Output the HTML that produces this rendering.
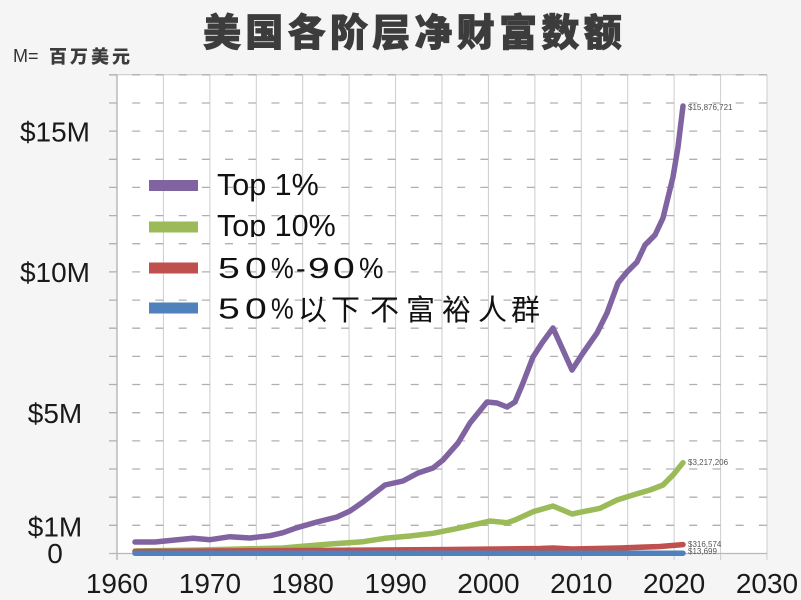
<!DOCTYPE html>
<html>
<head>
<meta charset="utf-8">
<style>
  html,body{margin:0;padding:0;background:#f5f5f5;}
  svg{display:block;}
</style>
</head>
<body>
<svg width="801" height="600" viewBox="0 0 801 600" xmlns="http://www.w3.org/2000/svg">
  <rect x="0" y="0" width="801" height="600" fill="#f5f5f5"/>
  <!-- plot area -->
  <rect x="117" y="74.8" width="650" height="478.7" fill="#ffffff"/>

  <!-- vertical grid lines -->
  <g stroke="#cdcdcd" stroke-width="1">
    <line x1="163.4" y1="74.8" x2="163.4" y2="560"/>
    <line x1="209.9" y1="74.8" x2="209.9" y2="560"/>
    <line x1="256.3" y1="74.8" x2="256.3" y2="560"/>
    <line x1="302.7" y1="74.8" x2="302.7" y2="560"/>
    <line x1="349.1" y1="74.8" x2="349.1" y2="560"/>
    <line x1="395.6" y1="74.8" x2="395.6" y2="560"/>
    <line x1="442.0" y1="74.8" x2="442.0" y2="560"/>
    <line x1="488.4" y1="74.8" x2="488.4" y2="560"/>
    <line x1="534.9" y1="74.8" x2="534.9" y2="560"/>
    <line x1="581.3" y1="74.8" x2="581.3" y2="560"/>
    <line x1="627.7" y1="74.8" x2="627.7" y2="560"/>
    <line x1="674.1" y1="74.8" x2="674.1" y2="560"/>
    <line x1="720.6" y1="74.8" x2="720.6" y2="560"/>
    <line x1="767" y1="74.8" x2="767" y2="560"/>
  </g>
  <!-- top border -->
  <line x1="117" y1="74.8" x2="767" y2="74.8" stroke="#c8c8c8" stroke-width="1"/>

  <!-- horizontal dashed grid lines -->
  <g stroke="#b0b0b0" stroke-width="1.3" stroke-dasharray="8 15.21">
    <line x1="109" y1="74.8" x2="771" y2="74.8"/>
    <line x1="109" y1="103.0" x2="771" y2="103.0"/>
    <line x1="109" y1="131.1" x2="771" y2="131.1"/>
    <line x1="109" y1="159.3" x2="771" y2="159.3"/>
    <line x1="109" y1="187.4" x2="771" y2="187.4"/>
    <line x1="109" y1="215.6" x2="771" y2="215.6"/>
    <line x1="109" y1="243.7" x2="771" y2="243.7"/>
    <line x1="109" y1="271.9" x2="771" y2="271.9"/>
    <line x1="109" y1="300.1" x2="771" y2="300.1"/>
    <line x1="109" y1="328.2" x2="771" y2="328.2"/>
    <line x1="109" y1="356.4" x2="771" y2="356.4"/>
    <line x1="109" y1="384.5" x2="771" y2="384.5"/>
    <line x1="109" y1="412.7" x2="771" y2="412.7"/>
    <line x1="109" y1="440.9" x2="771" y2="440.9"/>
    <line x1="109" y1="469.0" x2="771" y2="469.0"/>
    <line x1="109" y1="497.2" x2="771" y2="497.2"/>
    <line x1="109" y1="525.3" x2="771" y2="525.3"/>
  </g>
  <!-- axes -->
  <line x1="117" y1="74.8" x2="117" y2="560" stroke="#b0b0b0" stroke-width="1.3"/>
  <line x1="109" y1="553.5" x2="767" y2="553.5" stroke="#b8b8b8" stroke-width="1.2"/>

  <!-- series -->
  <g fill="none" stroke-width="5.5" stroke-linejoin="round" stroke-linecap="round">
    <polyline stroke="#8064a2" points="135,542 155,542 175,540 193,538.3 210,539.7 230,536.7 250,538 270,535.7 283,532.7 297,527.7 317,522 337,517 350,511 363,502 385,485 403,481 418,473 433,468 443,460 458,443 470,423 487,402 497,403 507,407 515,402 523,383 533,357 542,343 553,328 572,370 583,353 597,333 607,313 618,283 627,272 637,262 645,245 655,235 663,218 673,177 678,147 683,106"/>
    <polyline stroke="#9bbb59" points="135,551 200,550 283,548 300,546.5 330,544 363,541.7 385,538.3 410,536 433,533.3 458,528.3 480,523.3 490,521 507,522.7 515,520 533,511.7 553,506 572,514 583,511.7 600,508.3 617,500 633,495 650,490 663,485 673,475 683,462.7"/>
    <polyline stroke="#c0504d" points="135,551.5 300,550.5 450,549.5 540,548.5 553,548 572,549 620,548 660,546.5 683,544.6"/>
    <polyline stroke="#4f81bd" points="135,553.2 683,553.2"/>
  </g>

  <!-- end labels -->
  <g font-family="Liberation Sans, sans-serif" font-size="8" fill="#555">
    <text x="688" y="110">$15,876,721</text>
    <text x="688" y="465">$3,217,206</text>
    <text x="688" y="547">$316,574</text>
    <text x="688" y="554">$13,699</text>
  </g>

  <!-- y axis labels -->
  <g font-family="Liberation Sans, sans-serif" font-size="28" fill="#1a1a1a" text-anchor="middle">
    <text x="55" y="141.5">$15M</text>
    <text x="55" y="282">$10M</text>
    <text x="55" y="423">$5M</text>
    <text x="55" y="536.5">$1M</text>
    <text x="55" y="563">0</text>
  </g>

  <!-- x axis labels -->
  <g font-family="Liberation Sans, sans-serif" font-size="28" fill="#1a1a1a" text-anchor="middle">
    <text x="117" y="593">1960</text>
    <text x="209.9" y="593">1970</text>
    <text x="302.7" y="593">1980</text>
    <text x="395.6" y="593">1990</text>
    <text x="488.4" y="593">2000</text>
    <text x="581.3" y="593">2010</text>
    <text x="674.1" y="593">2020</text>
    <text x="767" y="593">2030</text>
  </g>

  <!-- title -->
  <text y="46" font-family="Liberation Sans, 'Noto Sans CJK SC', sans-serif" font-size="38" font-weight="900" fill="#3c3c3c" stroke="#3c3c3c" stroke-width="0.8"
        x="203 245.3 287.6 329.9 372.2 414.5 456.8 499.1 541.4 583.7">美国各阶层净财富数额</text>

  <!-- unit note -->
  <text x="13" y="62" font-family="Liberation Sans, sans-serif" font-size="18" fill="#333">M=</text>
  <text y="63" font-family="Liberation Sans, 'Noto Sans CJK SC', sans-serif" font-size="18" font-weight="900" fill="#3c3c3c"
        x="49 70 91 112">百万美元</text>

  <!-- legend -->
  <defs>
    <clipPath id="clip10"><rect x="210" y="200" width="200" height="37"/></clipPath>
  </defs>
  <rect x="149" y="180" width="49" height="11" fill="#8064a2"/>
  <rect x="149" y="221.5" width="49" height="11" fill="#9bbb59"/>
  <rect x="149" y="262.5" width="49" height="11" fill="#c0504d"/>
  <rect x="149" y="302.5" width="49" height="11" fill="#4f81bd"/>
  <g font-family="Liberation Sans, 'Noto Sans CJK SC', sans-serif" fill="#111">
    <text x="217" y="195" font-size="30.5">Top 1%</text>
    <text x="217" y="236" font-size="30.5" clip-path="url(#clip10)">Top 10%</text>
  </g>
  <g font-family="Liberation Sans, sans-serif" font-size="29" fill="#111">
    <text transform="translate(218,278) scale(1.35,1)">5</text>
    <text transform="translate(245,278) scale(1.35,1)">0</text>
    <text transform="translate(271,278) scale(0.88,1)">%</text>
    <text transform="translate(296,278)">-</text>
    <text transform="translate(308,278) scale(1.35,1)">9</text>
    <text transform="translate(333,278) scale(1.35,1)">0</text>
    <text transform="translate(359,278) scale(0.95,1)">%</text>
    <text transform="translate(218,318.5) scale(1.35,1)">5</text>
    <text transform="translate(245,318.5) scale(1.35,1)">0</text>
    <text transform="translate(271,318.5) scale(0.88,1)">%</text>
  </g>
  <text y="320" font-family="Liberation Sans, 'Noto Sans CJK SC', sans-serif" font-size="29" fill="#111"
        x="298 331 370 406 442 478 511">以下不富裕人群</text>
</svg>
</body>
</html>
